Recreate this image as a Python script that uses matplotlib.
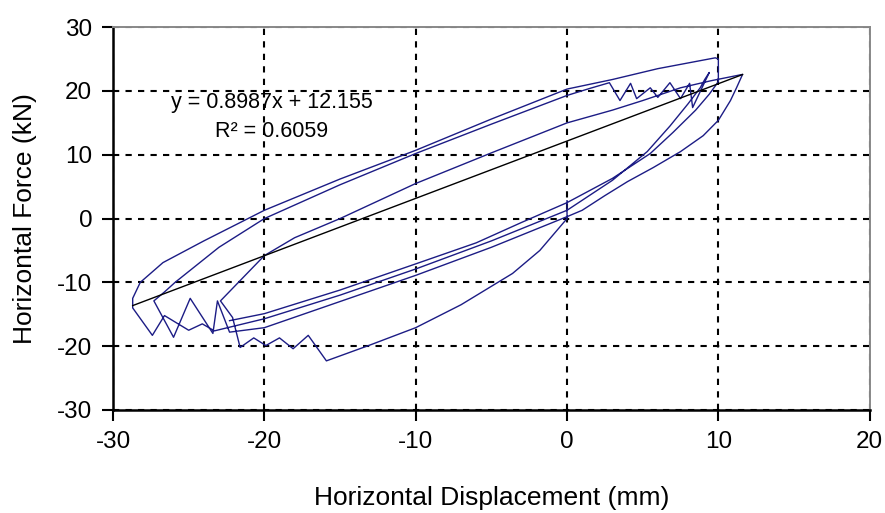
import matplotlib
matplotlib.use("Agg")
import matplotlib.pyplot as plt
import numpy as np

plt.rcParams["font.family"] = ["Liberation Sans", "DejaVu Sans"]
plt.rcParams["axes.unicode_minus"] = False

# hysteresis trace (mm, kN), in drawing order
disp = [
    # short vertical then initial push to the negative side
    0.0, 0.0, -1.8, -3.6, -7.0, -10.0, -13.0, -15.9,
    # saw teeth at the bottom
    -17.1, -18.1, -19.0, -19.9, -20.7, -21.6, -22.1, -22.9,
    # steep reload and inner upper branch up to the tip
    -20.0, -18.0, -15.0, -10.0, -5.0, 0.0, 3.0, 5.0, 7.5, 9.5, 11.6,
    # unload along the outer right curve down to the negative side
    11.2, 10.8, 10.0, 9.0, 7.5, 5.7, 4.0, 2.5, 1.0, 0.0, -5.0, -10.0, -15.0, -20.0, -22.3,
    # teeth on the left
    -23.1, -23.4, -24.9, -26.0, -27.3,
    # second upper branch with teeth near the top
    -26.6, -25.9, -23.0, -20.0, -15.0, -10.0, -5.0, 0.0, 1.5, 2.8, 3.5, 4.2, 4.6, 5.5,
    6.0, 6.8, 7.5, 8.1, 8.3, 9.4,
    # unload
    9.1, 8.8, 8.0, 6.8, 5.3, 3.0, 0.0, -5.0, -10.0, -15.0, -20.0, -23.3,
    # teeth on the far left
    -24.1, -25.0, -26.6, -27.4, -28.7, -28.7,
    # outer upper branch
    -28.2, -26.7, -24.0, -20.0, -15.0, -10.0, -5.0, 0.0, 3.0, 6.0, 9.8, 10.0, 10.0,
    # last unload
    9.8, 9.4, 8.5, 7.0, 5.5, 3.0, 0.0, -3.0, -6.0, -10.0, -15.0, -20.0, -22.3,
]
force = [
    2.8, 0.0, -5.0, -8.6, -13.5, -17.1, -19.8, -22.3,
    -18.3, -20.4, -18.7, -19.9, -18.7, -20.2, -15.5, -12.9,
    -5.8, -3.0, 0.0, 5.5, 10.3, 15.0, 17.0, 18.5, 20.5, 21.6, 22.6,
    20.5, 18.5, 15.4, 13.0, 10.5, 8.0, 5.8, 3.6, 1.3, 0.3, -4.5, -8.9, -13.0, -17.1, -17.8,
    -12.9, -18.0, -12.5, -18.6, -12.9,
    -11.5, -10.0, -4.5, 0.0, 5.3, 10.2, 14.8, 19.3, 20.4, 21.3, 18.5, 21.2, 18.8, 20.5,
    19.0, 21.3, 18.8, 21.2, 17.4, 22.9,
    21.8, 20.5, 18.0, 14.5, 10.5, 6.0, 1.3, -3.5, -7.9, -12.0, -15.7, -17.6,
    -16.5, -17.5, -15.2, -18.3, -14.0, -12.5,
    -10.0, -6.9, -3.5, 1.3, 6.2, 10.7, 15.6, 20.3, 21.8, 23.5, 25.2, 25.0, 21.5,
    20.8, 19.5, 17.0, 13.5, 10.2, 6.3, 2.5, -0.6, -3.8, -7.1, -11.2, -14.9, -16.0,
]

# linear trendline shown on the chart
slope = 0.8987
intercept = 12.155
r_squared = 0.6059

x_ticks = [-30, -20, -10, 0, 10, 20]
y_ticks = [-30, -20, -10, 0, 10, 20, 30]

fig = plt.figure(figsize=(8.85, 5.13), dpi=100)
ax = fig.add_axes([0.1277, 0.2008, 0.855, 0.7462])

ax.plot(disp, force, color="#1c1c85", linewidth=1.0)

xs = np.array([min(disp), max(disp)])
ax.plot(xs, slope * xs + intercept, color="black", linewidth=1.0)

ax.set_xlim(-30, 20)
ax.set_ylim(-30, 30)
ax.set_xticks(x_ticks)
ax.set_yticks(y_ticks)
ax.grid(True, color="black", linestyle=(0, (3, 3)), linewidth=1.5)
ax.set_axisbelow(True)

for side in ["left", "bottom"]:
    ax.spines[side].set_color("black")
    ax.spines[side].set_linewidth(1.8)
for side in ["top", "right"]:
    ax.spines[side].set_color("#888888")
    ax.spines[side].set_linewidth(1.4)

ax.tick_params(axis="both", direction="out", length=8, width=1.5, labelsize=17.5, pad=7)
ax.set_xlabel("Horizontal Displacement (mm)", fontsize=19, labelpad=24)
ax.set_ylabel("Horizontal Force (kN)", fontsize=19, labelpad=14)

ax.text(-19.5, 18.2, "y = %.4fx + %.3f" % (slope, intercept), fontsize=15.5,
        ha="center", va="center")
ax.text(-19.5, 13.6, "R² = %.4f" % r_squared, fontsize=15.5,
        ha="center", va="center")

plt.savefig("out.png")
